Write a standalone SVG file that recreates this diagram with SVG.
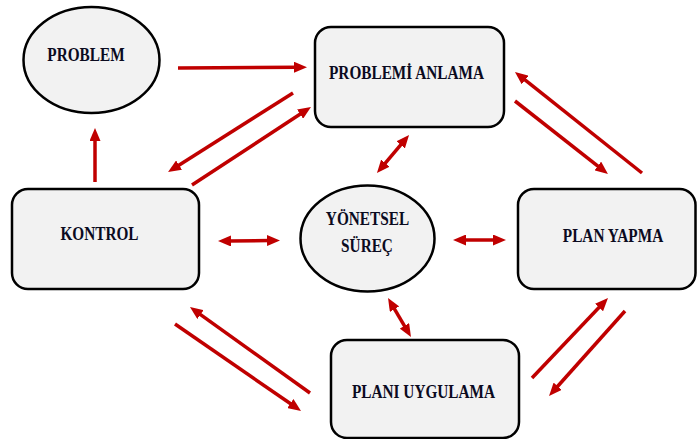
<svg xmlns="http://www.w3.org/2000/svg" width="697" height="439" viewBox="0 0 697 439">
  <style>
    .node { fill: #F2F2F2; stroke: #000; stroke-width: 2.5; }
    .label { font-family: "Liberation Serif", "Times New Roman", serif; font-weight: bold; font-size: 15.3px; fill: #0b0b1f; text-anchor: middle; }
    .conn line { stroke: #C00000; stroke-width: 3.5; fill: none; }
    .one { marker-end: url(#head); }
    .two { marker-start: url(#head); marker-end: url(#head); }
  </style>
  <defs>
    <marker id="head" markerUnits="userSpaceOnUse" markerWidth="13" markerHeight="11" refX="3" refY="5.5" orient="auto-start-reverse" viewBox="0 0 13 11">
      <path d="M0,0 L13,5.5 L0,11 z" fill="#C00000"/>
    </marker>
  </defs>

  <rect width="697" height="439" fill="#fff"/>

  <!-- connectors -->
  <g id="connectors" class="conn">
    <line class="one" x1="178" y1="68" x2="297" y2="67.2"/>
    <line class="one" x1="293" y1="93" x2="176.5" y2="166.7"/>
    <line class="one" x1="192" y1="185" x2="302.6" y2="112.5"/>
    <line class="one" x1="95" y1="182" x2="95" y2="138"/>
    <line class="two" x1="383.4" y1="165.4" x2="402.6" y2="142.6"/>
    <line class="one" x1="642" y1="173" x2="522.8" y2="78.2"/>
    <line class="one" x1="515" y1="101" x2="600.1" y2="167.8"/>
    <line class="two" x1="228" y1="241" x2="270" y2="240.5"/>
    <line class="two" x1="463" y1="240" x2="496" y2="240"/>
    <line class="two" x1="393.1" y1="306.6" x2="405.9" y2="328.4"/>
    <line class="one" x1="532" y1="378" x2="601.1" y2="305.3"/>
    <line class="one" x1="625" y1="311" x2="555.7" y2="388.5"/>
    <line class="one" x1="310" y1="393" x2="198.1" y2="312.8"/>
    <line class="one" x1="175" y1="324" x2="292.8" y2="405.3"/>
  </g>

  <!-- nodes -->
  <g id="problem">
    <ellipse class="node" cx="91.5" cy="60" rx="68" ry="53"/>
    <text class="label" transform="translate(86,61) scale(1,1.18)">PROBLEM</text>
  </g>
  <g id="problemi-anlama">
    <rect class="node" x="315" y="27" width="189" height="100" rx="16"/>
    <text class="label" transform="translate(406.5,79) scale(1,1.18)">PROBLEMİ ANLAMA</text>
  </g>
  <g id="kontrol">
    <rect class="node" x="12" y="189" width="187" height="100" rx="16"/>
    <text class="label" transform="translate(99.5,240) scale(1,1.18)">KONTROL</text>
  </g>
  <g id="yonetsel-surec">
    <ellipse class="node" cx="367.5" cy="238.5" rx="67" ry="53"/>
    <text class="label" transform="translate(367.5,225) scale(1,1.18)">YÖNETSEL</text>
    <text class="label" transform="translate(367,252) scale(1,1.18)">SÜREÇ</text>
  </g>
  <g id="plan-yapma">
    <rect class="node" x="518" y="189" width="177.5" height="100" rx="16"/>
    <text class="label" transform="translate(613,242) scale(1,1.18)">PLAN YAPMA</text>
  </g>
  <g id="plani-uygulama">
    <rect class="node" x="331" y="340" width="188" height="98" rx="16"/>
    <text class="label" transform="translate(423.5,397.5) scale(1,1.18)">PLANI UYGULAMA</text>
  </g>
</svg>
